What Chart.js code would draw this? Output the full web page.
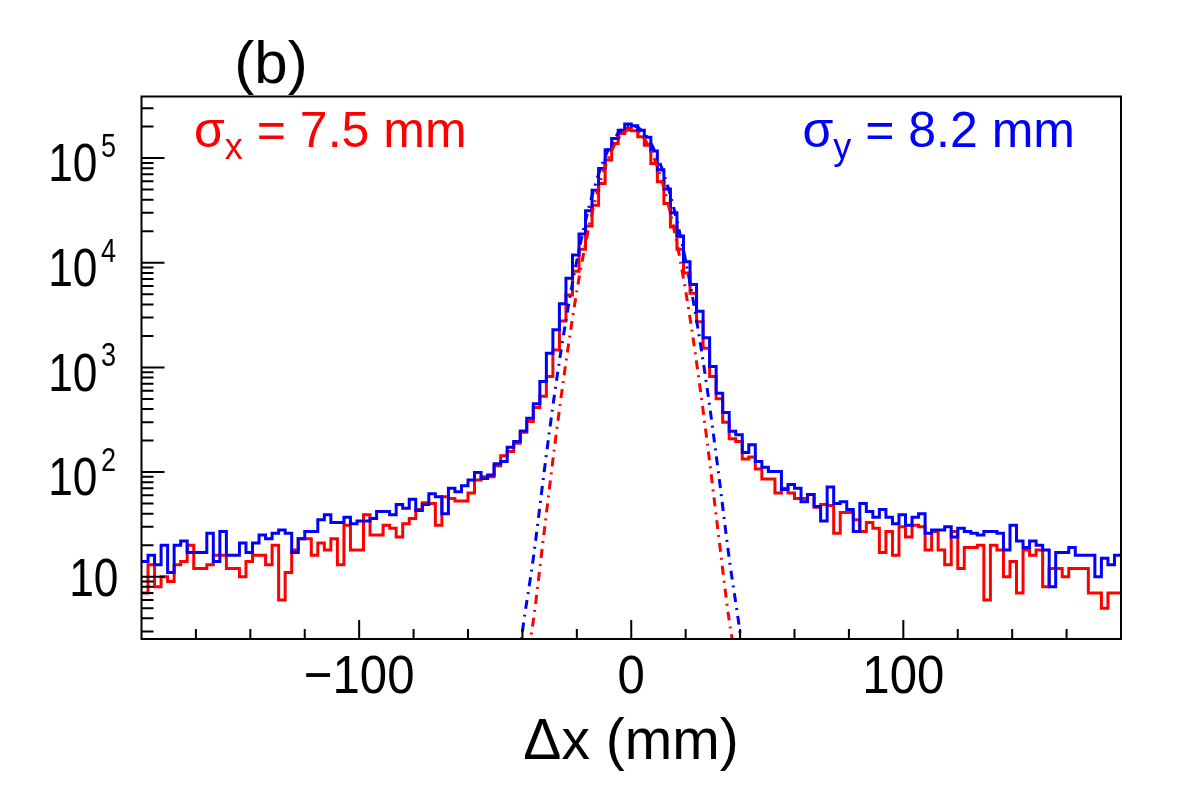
<!DOCTYPE html>
<html>
<head>
<meta charset="utf-8">
<title>Δx (mm)</title>
<script src="https://cdn.jsdelivr.net/npm/chart.js@4.4.1/dist/chart.umd.min.js"></script>
<style>
  html, body { margin: 0; padding: 0; background: #fff; }
  #wrap { position: relative; width: 1182px; height: 800px; }
</style>
</head>
<body>
<div id="wrap"><canvas id="myChart"></canvas></div>
<script>
// histogram range in mm, 150 equal bins
const xRange = [-180, 180];

// counts per bin (red = x, blue = y)
const redCounts = [
  7, 13, 8, 10, 9, 13, 14, 20, 12, 12,
  13, 16, 16, 12, 12, 10, 14, 16, 16, 13,
  20, 6, 11, 18, 23, 23, 16, 21, 18, 23,
  13, 31, 18, 18, 39, 25, 25, 31, 29, 24,
  32, 36, 44, 51, 50, 31, 58, 56, 53, 53,
  63, 84, 90, 90, 115, 143, 157, 189, 240, 305,
  415, 530, 817, 1470, 2780, 4920, 8300, 13500, 22500, 35500,
  57300, 95700, 138000, 172000, 192000, 183000, 160000, 133000, 89000, 59400,
  36900, 22000, 13500, 8000, 5100, 2735, 1525, 817, 502, 300,
  208, 196, 133, 139, 107, 86, 86, 63, 70, 63,
  56, 56, 61, 46, 49, 48, 26, 41, 41, 35,
  27, 33, 29, 17, 27, 16, 30, 24, 31, 30,
  18, 27, 18, 13, 27, 12, 19, 19, 20, 6,
  20, 18, 10, 14, 7, 18, 16, 18, 8, 12,
  12, 10, 12, 12, 12, 7, 7, 5, 7, 7
];
const blueCounts = [
  14, 16, 13, 20, 11, 20, 22, 17, 17, 17,
  26, 14, 27, 16, 16, 21, 17, 21, 25, 23,
  26, 28, 26, 17, 23, 27, 27, 35, 39, 33,
  33, 37, 32, 34, 34, 36, 42, 42, 39, 49,
  45, 55, 43, 49, 62, 58, 40, 70, 65, 74,
  84, 99, 87, 94, 120, 126, 173, 196, 247, 327,
  450, 733, 1365, 2290, 4060, 7100, 11850, 18800, 31400, 49450,
  79700, 120000, 154000, 185000, 212000, 204000, 185000, 158000, 117000, 77500,
  50800, 30000, 18000, 10200, 6200, 3450, 1920, 1020, 567, 370,
  245, 227, 154, 182, 126, 111, 101, 101, 68, 76,
  70, 52, 61, 47, 34, 72, 50, 52, 44, 27,
  50, 42, 37, 44, 37, 32, 39, 31, 37, 40,
  26, 28, 28, 30, 24, 29, 27, 26, 25, 27,
  27, 26, 18, 31, 22, 19, 22, 20, 18, 8,
  17, 17, 19, 16, 16, 16, 10, 15, 13, 16
];

// dash-dot fit curves
const fitX = [-44, -40, -36, -32, -28, -24, -20, -16, -12, -8, -4, 0, 4, 8, 12, 16, 20, 24, 28, 32, 36, 40, 44];
const redFit = [0.1, 0.9, 3.8, 27, 190, 1120, 5370, 19300, 52300, 106000, 163000, 188000, 163000, 106000, 52300, 19300, 5370, 1120, 185, 26, 3.8, 0.9, 0.1];
const blueFit = [0.4, 3.0, 15, 101, 603, 2830, 10500, 30500, 70300, 127000, 182000, 205000, 182000, 127000, 70300, 30500, 10500, 2830, 603, 101, 15, 2.9, 0.4];

const xTickLabels = [-100, 0, 100];
const yDecades = [1, 2, 3, 4, 5];
const yRange = [2.54, 3.88e5];

const FONT = '"Liberation Sans", Arial, Helvetica, sans-serif';

// bin edges -> points for a stepped line
function histPoints(counts) {
  const w = (xRange[1] - xRange[0]) / counts.length;
  const pts = counts.map((c, i) => ({ x: xRange[0] + i * w, y: c }));
  pts.push({ x: xRange[1], y: counts[counts.length - 1] });
  return pts;
}
function curvePoints(ys) {
  return fitX.map((x, i) => ({ x: x, y: ys[i] }));
}

// axis numbers in the picture are a bit narrow, so squeeze them
function squeezedText(ctx, str, x, y, size, hs, align) {
  ctx.save();
  ctx.translate(x, y);
  ctx.scale(hs, 1);
  ctx.font = size + 'px ' + FONT;
  ctx.textAlign = align;
  ctx.textBaseline = 'alphabetic';
  ctx.fillText(str, 0, 0);
  ctx.restore();
}

function drawSigma(ctx, x0, baseline, sub, rest, color, alignRight) {
  const big = '50px ' + FONT, small = '36px ' + FONT;
  ctx.font = big;
  const w1 = ctx.measureText('σ').width, w3 = ctx.measureText(rest).width;
  ctx.font = small;
  const w2 = ctx.measureText(sub).width;
  let x = alignRight ? x0 - (w1 + w2 + w3) : x0;
  ctx.fillStyle = color;
  ctx.textAlign = 'left';
  ctx.textBaseline = 'alphabetic';
  ctx.font = big; ctx.fillText('σ', x, baseline); x += w1;
  ctx.font = small; ctx.fillText(sub, x, baseline + 12); x += w2;
  ctx.font = big; ctx.fillText(rest, x, baseline);
}

// ROOT-like frame, inward ticks, labels and the text
const rootFrame = {
  id: 'rootFrame',
  afterDatasetsDraw(chart) {
    const { ctx, chartArea: a, scales } = chart;
    const x = scales.x, y = scales.y;
    ctx.save();
    ctx.strokeStyle = '#000';
    ctx.lineWidth = 2;
    ctx.strokeRect(a.left, a.top, a.right - a.left, a.bottom - a.top);

    ctx.beginPath();
    for (let v = -160; v <= 160; v += 20) {
      const px = x.getPixelForValue(v);
      const len = xTickLabels.includes(v) ? 19 : 10;
      ctx.moveTo(px, a.bottom);
      ctx.lineTo(px, a.bottom - len);
    }
    for (let d = 0; d <= 5; d++) {
      for (let m = 1; m <= 9; m++) {
        const v = m * Math.pow(10, d);
        if (v < y.min || v > y.max) continue;
        const py = y.getPixelForValue(v);
        const len = m === 1 ? 23 : 12;
        ctx.moveTo(a.left, py);
        ctx.lineTo(a.left + len, py);
      }
    }
    ctx.stroke();

    ctx.fillStyle = '#000';
    // x labels
    xTickLabels.forEach(v => {
      const txt = v < 0 ? '\u2212' + Math.abs(v) : String(v);
      squeezedText(ctx, txt, x.getPixelForValue(v), 693, 54, 0.91, 'center');
    });
    // y labels 10, 10^2 ...
    yDecades.forEach(d => {
      const py = y.getPixelForValue(Math.pow(10, d));
      if (d === 1) {
        squeezedText(ctx, '10', 118.5, py + 19.5, 54, 0.82, 'right');
      } else {
        squeezedText(ctx, '10', 97.5, py + 23.3, 54, 0.82, 'right');
        squeezedText(ctx, String(d), 101, py - 1, 33, 0.82, 'left');
      }
    });

    // panel tag and axis title
    ctx.textAlign = 'center';
    ctx.textBaseline = 'alphabetic';
    ctx.font = '60px ' + FONT;
    ctx.fillText('(b)', 271, 83);
    ctx.font = '57px ' + FONT;
    ctx.fillText('Δx (mm)', 631, 759);

    drawSigma(ctx, 194, 147, 'x', ' = 7.5 mm', '#ff0000', false);
    drawSigma(ctx, 1075, 147, 'y', ' = 8.2 mm', '#0000ff', true);
    ctx.restore();
  }
};

const ctx = document.getElementById('myChart').getContext('2d');
const chart = new Chart(ctx, {
  type: 'line',
  data: {
    datasets: [
      { label: 'fit y', data: curvePoints(blueFit), borderColor: '#0000ff', borderWidth: 3,
        borderDash: [9, 6, 2, 6], pointRadius: 0, fill: false, cubicInterpolationMode: 'monotone' },
      { label: 'fit x', data: curvePoints(redFit), borderColor: '#ff0000', borderWidth: 3,
        borderDash: [9, 6, 2, 6], pointRadius: 0, fill: false, cubicInterpolationMode: 'monotone' },
      { label: 'y', data: histPoints(blueCounts), borderColor: '#0000ff', borderWidth: 3,
        stepped: 'before', pointRadius: 0, fill: false },
      { label: 'x', data: histPoints(redCounts), borderColor: '#ff0000', borderWidth: 3,
        stepped: 'before', pointRadius: 0, fill: false }
    ]
  },
  options: {
    responsive: true,
    maintainAspectRatio: false,
    animation: false,
    layout: { padding: { left: 141.5, top: 96.5, right: 61, bottom: 0 } },
    plugins: { legend: { display: false }, tooltip: { enabled: false } },
    scales: {
      x: {
        type: 'linear',
        min: xRange[0],
        max: xRange[1],
        grid: { display: false, drawTicks: false },
        border: { display: false },
        ticks: { display: false },
        afterFit: s => { s.height = 161; }
      },
      y: {
        type: 'logarithmic',
        display: false,
        min: yRange[0],
        max: yRange[1]
      }
    }
  },
  plugins: [rootFrame]
});
</script>
</body>
</html>
